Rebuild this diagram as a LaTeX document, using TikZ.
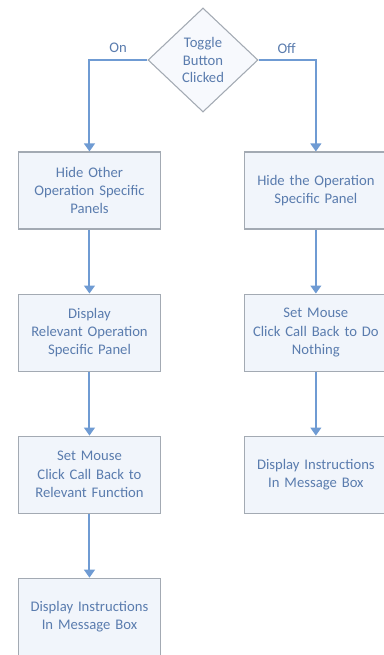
\documentclass[tikz,border=0pt]{standalone}
\usepackage{fontspec}
\setmainfont{Carlito}
\usetikzlibrary{positioning,shapes.geometric,arrows.meta}
\definecolor{flowline}{HTML}{6F9BD3}
\definecolor{flowtext}{HTML}{5A7CAE}
\definecolor{boxedge}{HTML}{A3AAB3}
\definecolor{boxfill}{HTML}{F1F5FB}
\tikzset{
  flow box/.style={
    draw=boxedge,
    fill=boxfill,
    text=flowtext,
    line width=0.8pt,
    align=center,
    minimum width={107pt},
    minimum height={57.75pt},
    text width={104pt},
    inner sep=1.5pt,
    font=\fontsize{11}{13.8}\selectfont,
  },
  decision/.style={
    diamond,
    draw=boxedge,
    fill=boxfill!60,
    text=flowtext,
    line width=0.8pt,
    align=center,
    minimum width={82.5pt},
    minimum height={78pt},
    inner sep=0pt,
    font=\fontsize{11}{13}\selectfont,
  },
  flow/.style={
    draw=flowline,
    line width=1.5pt,
    -{Triangle[width=8pt,length=6pt]},
  },
  branch label/.style={
    text=flowtext,
    font=\fontsize{11}{13}\selectfont,
  }
}

\begin{document}
\begin{tikzpicture}[node distance=48pt]
        \useasboundingbox (0,0) rectangle (288pt,-491.25pt);

        \node [decision] (toggle) at (152.25pt,-45pt) {Toggle\\Button\\Clicked};

        \node [flow box] (on1) at (67.1pt,-142.9pt) {Hide Other\\Operation Specific\\Panels};
        \node [flow box, below=of on1] (on2) {Display\\Relevant Operation\\Specific Panel};
        \node [flow box, below=of on2] (on3) {Set Mouse\\Click Call Back to\\Relevant Function};
        \node [flow box, below=of on3] (on4) {Display Instructions\\In Message Box};

        \node [flow box, right=62pt of on1] (off1) {Hide the Operation\\Specific Panel};
        \node [flow box, below=of off1] (off2) {Set Mouse\\Click Call Back to Do\\Nothing};
        \node [flow box, below=of off2] (off3) {Display Instructions\\In Message Box};

        \draw [flow] (toggle.west) -| (on1.north);
        \draw [flow] (toggle.east) -| (off1.north);
        \draw [flow] (on1) -- (on2);
        \draw [flow] (on2) -- (on3);
        \draw [flow] (on3) -- (on4);
        \draw [flow] (off1) -- (off2);
        \draw [flow] (off2) -- (off3);

        \node [branch label] (onlabel) at (88.5pt,-36pt) {On};
        \node [branch label] (offlabel) at (215pt,-36pt) {Off};
      \end{tikzpicture}
\end{document}
